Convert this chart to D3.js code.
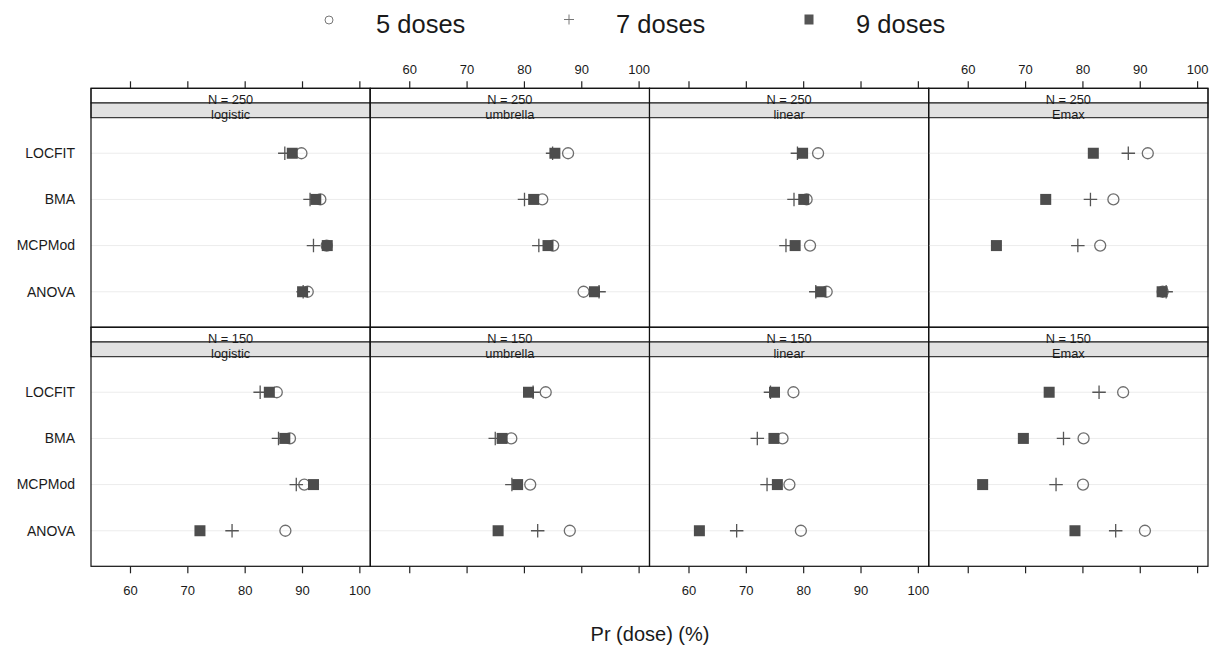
<!DOCTYPE html>
<html><head><meta charset="utf-8">
<script src="https://cdn.jsdelivr.net/npm/d3@7"></script>
<style>
body{margin:0;background:#fff}
text{font-family:"Liberation Sans",Arial,Helvetica,sans-serif;fill:#1a1a1a}
</style>
</head><body><svg id="c" width="1219" height="655"></svg>
<script>
// ---------- data ----------
const methods = ["LOCFIT", "BMA", "MCPMod", "ANOVA"];
const models = ["logistic", "umbrella", "linear", "Emax"];
const sampleSizes = ["N = 250", "N = 150"];
const doseLabels = ["5 doses", "7 doses", "9 doses"];
const xTicks = [60, 70, 80, 90, 100];
const xTickLabels = ["60", "70", "80", "90", "100"];

// one row per model (logistic, umbrella, linear, Emax); values per method (LOCFIT, BMA, MCPMod, ANOVA)
const n250_dose5 = [[89.9, 93.2, 94.3, 91.0], [87.7, 83.2, 85.1, 90.4], [82.6, 80.6, 81.2, 84.1], [91.4, 85.4, 83.1, 94.0]];
const n250_dose7 = [[87.0, 91.4, 92.0, 90.2], [85.0, 80.1, 82.6, 93.1], [79.0, 78.4, 77.0, 82.2], [88.0, 81.4, 79.2, 94.6]];
const n250_dose9 = [[88.3, 92.4, 94.4, 90.1], [85.4, 81.7, 84.2, 92.3], [79.9, 80.1, 78.6, 83.1], [81.9, 73.6, 65.0, 93.9]];
const n150_dose5 = [[85.6, 87.9, 90.4, 87.1], [83.8, 77.8, 81.1, 88.0], [78.3, 76.4, 77.6, 79.6], [87.1, 80.2, 80.1, 90.9]];
const n150_dose7 = [[82.7, 85.9, 89.0, 77.8], [81.6, 75.0, 77.9, 82.4], [74.3, 72.0, 73.7, 68.4], [82.9, 76.7, 75.4, 85.8]];
const n150_dose9 = [[84.3, 87.0, 92.0, 72.2], [80.8, 76.2, 78.9, 75.5], [75.0, 74.9, 75.5, 61.9], [74.2, 69.7, 62.6, 78.7]];

const seriesBySize = {
  "N = 250": [n250_dose5, n250_dose7, n250_dose9],
  "N = 150": [n150_dose5, n150_dose7, n150_dose9]
};

// ---------- layout ----------
const svg = d3.select("#c");
const xDomain = [53.2, 101.9];
const colBand = d3.scaleBand().domain(models).range([91, 1208]).padding(0);
const rowBand = d3.scaleBand().domain(sampleSizes).range([88.3, 566.3]).padding(0);
const stripH = 14.7;

const symCircle = (g, x, y, r, col, sw) => g.append("circle").attr("cx", x).attr("cy", y).attr("r", r)
  .attr("fill", "none").attr("stroke", col).attr("stroke-width", sw);
const symPlus = (g, x, y, s, col, sw) => g.append("path")
  .attr("d", `M${x - s / 2},${y}H${x + s / 2}M${x},${y - s / 2}V${y + s / 2}`)
  .attr("stroke", col).attr("stroke-width", sw).attr("fill", "none");
const symSquare = (g, x, y, w, h, col) => g.append("rect").attr("x", x - w / 2).attr("y", y - h / 2)
  .attr("width", w).attr("height", h).attr("fill", col);

sampleSizes.forEach((size, r) => {
  const top = rowBand(size);
  const bottom = top + rowBand.bandwidth();
  const plotTop = top + 2 * stripH;
  models.forEach((model, c) => {
    const left = colBand(model);
    const right = left + colBand.bandwidth();
    const g = svg.append("g");
    const x = d3.scaleLinear().domain(xDomain).range([left, right]);
    const y = d3.scalePoint().domain(methods).range([plotTop, bottom]).padding(0.77);

    // grid lines
    g.selectAll("line.grid").data(methods).join("line")
      .attr("x1", left).attr("x2", right)
      .attr("y1", d => y(d)).attr("y2", d => y(d))
      .attr("stroke", "#ececec").attr("stroke-width", 1);

    // strips
    g.append("rect").attr("x", left).attr("y", top).attr("width", right - left).attr("height", stripH)
      .attr("fill", "#fff").attr("stroke", "#111").attr("stroke-width", 1);
    g.append("rect").attr("x", left).attr("y", top + stripH).attr("width", right - left).attr("height", stripH)
      .attr("fill", "#e1e1e1").attr("stroke", "#111").attr("stroke-width", 1);
    g.append("text").attr("x", (left + right) / 2).attr("y", top + stripH + 1)
      .attr("text-anchor", "middle").attr("font-size", 12.8).text(size);
    g.append("text").attr("x", (left + right) / 2).attr("y", top + 2 * stripH + 1)
      .attr("text-anchor", "middle").attr("font-size", 12.8).text(model);

    // points: 5 doses (circle), 7 doses (plus), 9 doses (square)
    const [d5, d7, d9] = seriesBySize[size];
    methods.forEach((m, i) => symCircle(g, x(d5[c][i]), y(m), 5.5, "#6e6e6e", 1.3));
    methods.forEach((m, i) => symPlus(g, x(d7[c][i]), y(m), 13.5, "#555", 1.3));
    methods.forEach((m, i) => symSquare(g, x(d9[c][i]), y(m), 11, 11, "#4d4d4d"));

    // panel border
    g.append("rect").attr("x", left).attr("y", top).attr("width", right - left).attr("height", bottom - top)
      .attr("fill", "none").attr("stroke", "#111").attr("stroke-width", 1.2);

    // axes: top on first row, bottom on last row, alternating labels
    if (r === 0) {
      const labeled = c % 2 === 1;
      const ax = d3.axisTop(x).tickValues(xTicks).tickSize(7).tickPadding(7)
        .tickFormat((d, i) => labeled ? xTickLabels[i] : "");
      const a = svg.append("g").attr("transform", `translate(0,${top})`).call(ax);
      a.select(".domain").remove();
      a.selectAll("line").attr("stroke", "#222").attr("stroke-width", 1.2);
      a.selectAll("text").attr("font-size", 13).attr("font-family", null).style("fill", "#1a1a1a");
    }
    if (r === sampleSizes.length - 1) {
      const labeled = c % 2 === 0;
      const ax = d3.axisBottom(x).tickValues(xTicks).tickSize(7).tickPadding(12)
        .tickFormat((d, i) => labeled ? xTickLabels[i] : "");
      const a = svg.append("g").attr("transform", `translate(0,${bottom})`).call(ax);
      a.select(".domain").remove();
      a.selectAll("line").attr("stroke", "#222").attr("stroke-width", 1.2);
      a.selectAll("text").attr("font-size", 13).attr("font-family", null).style("fill", "#1a1a1a");
    }

    // y labels
    if (c === 0) {
      svg.append("g").selectAll("text").data(methods).join("text")
        .attr("x", 75).attr("y", d => y(d)).attr("dy", "0.35em")
        .attr("text-anchor", "end").attr("font-size", 14).text(d => d);
    }
  });
});

// ---------- legend ----------
const lx = d3.scalePoint().domain(doseLabels).range([329, 809]);
const lg = svg.append("g");
symCircle(lg, lx(doseLabels[0]), 20, 4, "#777", 1);
symPlus(lg, lx(doseLabels[1]), 19.5, 10, "#777", 1);
symSquare(lg, lx(doseLabels[2]), 19.5, 9, 10, "#555");
lg.selectAll("text").data(doseLabels).join("text")
  .attr("x", d => lx(d) + 47).attr("y", 33).attr("font-size", 25.5).text(d => d);

// ---------- axis title ----------
svg.append("text").attr("x", 650).attr("y", 641).attr("text-anchor", "middle")
  .attr("font-size", 20).text("Pr (dose) (%)");
</script>
</body></html>
